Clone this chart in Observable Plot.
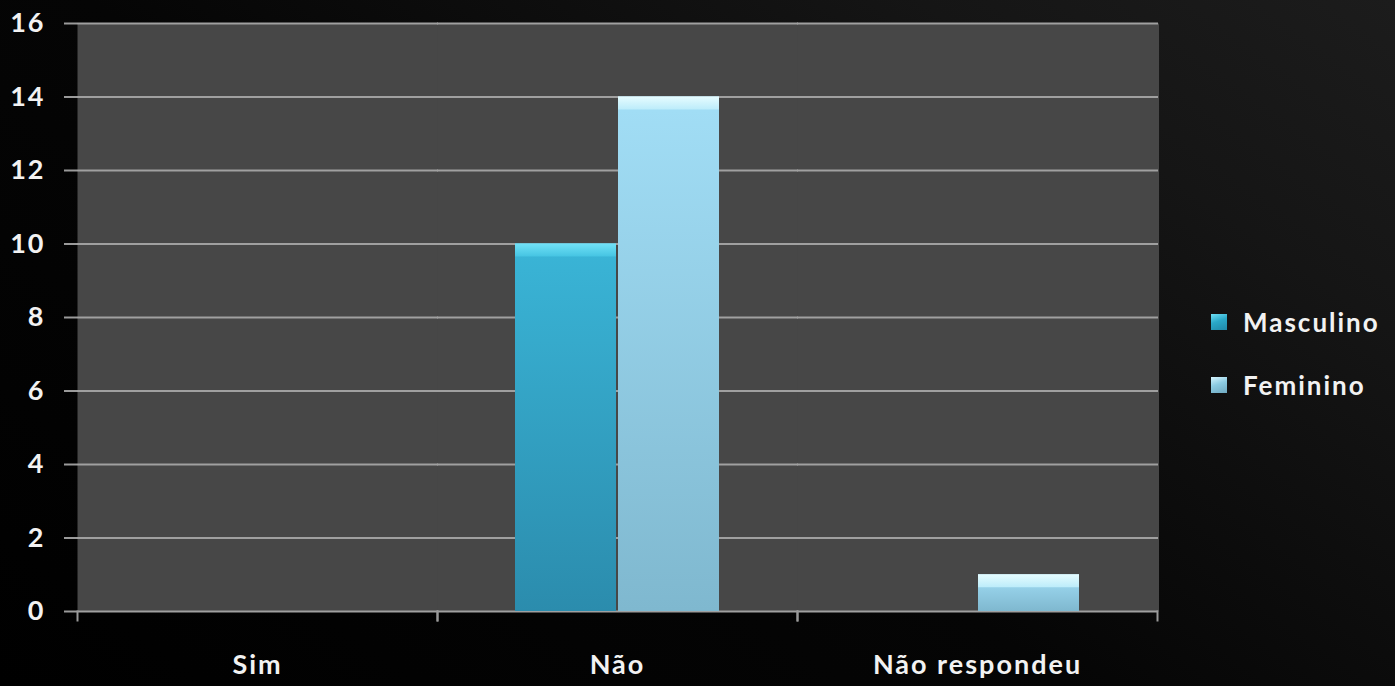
<!DOCTYPE html>
<html>
<head>
<meta charset="utf-8">
<script src="https://cdn.jsdelivr.net/npm/d3@7"></script>
<script src="https://cdn.jsdelivr.net/npm/@observablehq/plot@0.6"></script>
<style>
  html, body { margin: 0; padding: 0; }
  body {
    width: 1395px; height: 686px; overflow: hidden; position: relative;
    background: linear-gradient(35deg, #000000 0%, #050505 45%, #151515 80%, #1c1c1c 100%);
    font-family: Lato, "Open Sans", sans-serif;
  }
  #chart svg text { font-weight: 700; letter-spacing: 2px; }
  #legend { position: absolute; left: 1211px; top: 307px; color: #f2f2f2; font-family: Lato, sans-serif; font-weight: 700; font-size: 26px; letter-spacing: 2px; }
  #legend .item { display: flex; align-items: center; height: 30px; margin-bottom: 33px; }
  #legend .sw { width: 16px; height: 16px; margin-right: 16px; }
</style>
</head>
<body>
<div id="chart"></div>
<div id="legend"></div>
<script>
const categories = ["Sim", "Não", "Não respondeu"];
const series = ["Masculino", "Feminino"];
const masculino = [0, 10, 0];
const feminino = [0, 14, 1];
const yTicks = [0, 2, 4, 6, 8, 10, 12, 14, 16];

const data = categories.flatMap((c, i) => [
  {cat: c, series: "Masculino", value: masculino[i]},
  {cat: c, series: "Feminino", value: feminino[i]}
]);

const fills = {Masculino: "url(#gM)", Feminino: "url(#gF)"};
const bevels = {Masculino: "url(#bevM)", Feminino: "url(#bevF)"};

const barMarks = series.flatMap(s => [
  Plot.barY(data, {filter: d => d.series === s && d.value > 0, fx: "cat", x: "series", y: "value", fill: fills[s]}),
  Plot.barY(data, {filter: d => d.series === s && d.value > 0, fx: "cat", x: "series", y1: "value", y2: "value", fill: bevels[s], insetBottom: -13})
]);

const chart = Plot.plot({
  width: 1395,
  height: 686,
  marginLeft: 76,
  marginRight: 237,
  marginTop: 23,
  marginBottom: 75,
  style: {background: "transparent", color: "#f2f2f2", fontFamily: "Lato, sans-serif", fontSize: "27px"},
  fx: {domain: categories, padding: 0, label: null},
  x: {domain: series, paddingInner: 0.02, paddingOuter: 0.744, axis: null},
  y: {domain: [0, 16], axis: null},
  marks: [
    Plot.frame({fill: "#474747", stroke: "none", insetRight: -1.5}),
    Plot.gridY(yTicks, {stroke: "#a0a0a0", strokeOpacity: 1, strokeWidth: 2, insetRight: -1}),
    Plot.frame({anchor: "left", stroke: "#999", strokeWidth: 2, insetTop: 588, insetBottom: -9}),
    Plot.frame({anchor: "right", stroke: "#999", strokeWidth: 2, insetTop: 588, insetBottom: -9}),
    ...barMarks,
    Plot.axisY({ticks: yTicks, tickSize: 13, tickPadding: 19, line: true, stroke: "#9a9a9a", strokeWidth: 2, fill: "#f2f2f2", tickFormat: d => String(d), label: null}),
    Plot.axisFx({anchor: "bottom", tickSize: 0, tickPadding: 43, fill: "#f2f2f2", label: null})
  ]
});

document.getElementById("chart").append(chart);
const svg = chart.tagName.toLowerCase() === "svg" ? chart : chart.querySelector("svg");
const defs = d3.select(svg).insert("defs", ":first-child");
function grad(id, stops) {
  const g = defs.append("linearGradient").attr("id", id).attr("x1", 0).attr("y1", 0).attr("x2", 0).attr("y2", 1);
  stops.forEach(([o, c]) => g.append("stop").attr("offset", o).attr("stop-color", c));
}
grad("gM", [[0, "#3ab5d7"], [1, "#2b8cad"]]);
grad("gF", [[0, "#a2def6"], [1, "#7fb8cf"]]);
grad("bevM", [[0, "#72e2f7"], [1, "#45c4e2"]]);
grad("bevF", [[0, "#e6fcff"], [1, "#bcecfa"]]);

const legendColors = {Masculino: "linear-gradient(160deg, #6fe0f6 0%, #2aa8c8 45%, #2088a8 100%)", Feminino: "linear-gradient(160deg, #d8f6ff 0%, #8ccbe2 45%, #6fa9c0 100%)"};
const legend = document.getElementById("legend");
series.forEach(s => {
  const item = document.createElement("div");
  item.className = "item";
  const sw = document.createElement("span");
  sw.className = "sw";
  sw.style.background = legendColors[s];
  const t = document.createElement("span");
  t.textContent = s;
  item.append(sw, t);
  legend.append(item);
});
</script>
</body>
</html>
